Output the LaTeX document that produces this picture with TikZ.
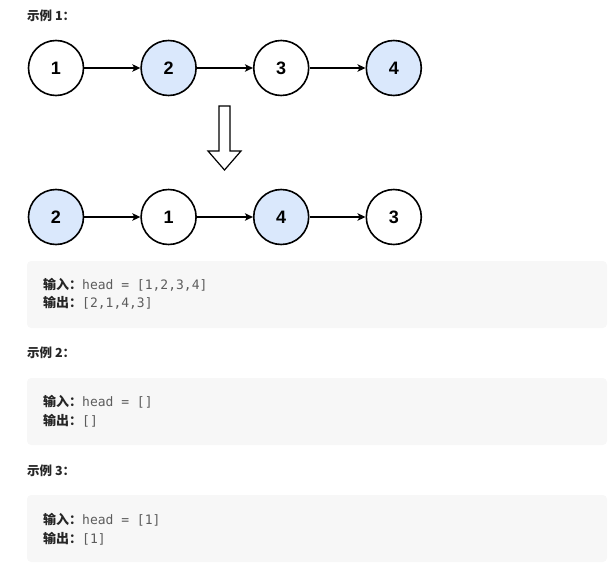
\documentclass[tikz,border=0pt]{standalone}
\usepackage{fontspec}
\setmainfont{Liberation Sans}
\setmonofont{DejaVu Sans Mono}
\newfontfamily\cjk{Noto Sans CJK SC}
\usetikzlibrary{arrows.meta, positioning}
\definecolor{nodeblue}{HTML}{DAE8FC}
\definecolor{codebg}{HTML}{F7F7F7}
\definecolor{codegray}{HTML}{5C5C5C}
\definecolor{labeldark}{HTML}{262626}
\tikzset{
  listnode/.style = {circle, draw=black, line width=1.6pt, minimum size=55pt, inner sep=0pt, fill=white, font=\bfseries\fontsize{18}{18}\selectfont},
  swapped/.style = {listnode, fill=nodeblue},
  link/.style = {-{Stealth[length=8pt, width=7.5pt, inset=2pt]}, line width=1.2pt},
  turnarrow/.style = {draw=black, line width=1.2pt, fill=white, line join=miter},
  codebox/.style = {fill=codebg, rounded corners=4pt},
  title/.style = {anchor=west, inner sep=0pt, text=labeldark, font=\cjk\bfseries\fontsize{12.5}{13}\selectfont},
  codeline/.style = {anchor=west, inner sep=0pt, text=codegray, font=\ttfamily\fontsize{13}{14}\selectfont}
}
\newcommand{\lbl}[1]{{\cjk\bfseries\color{labeldark}#1}}

\begin{document}
\begin{tikzpicture}[x=1pt, y=-1pt, node distance=56pt]
\useasboundingbox (0,0) rectangle (616,567);

% Example 1
\node[title] (ex1) at (27,16) {示例 1：};

% Before
\node[listnode] (a1) at (56,68) {1};
\node[swapped, right=of a1] (a2) {2};
\node[listnode, right=of a2] (a3) {3};
\node[swapped, right=of a3] (a4) {4};

\draw[link] (a1) -- (a2);
\draw[link] (a2) -- (a3);
\draw[link] (a3) -- (a4);

% Down arrow
\draw[turnarrow] (219,106) -- (230,106) -- (230,151) -- (241,151) -- (224.5,170) -- (208,151) -- (219,151) -- cycle;

% After
\node[swapped] (b1) at (56,217) {2};
\node[listnode, right=of b1] (b2) {1};
\node[swapped, right=of b2] (b3) {4};
\node[listnode, right=of b3] (b4) {3};

\draw[link] (b1) -- (b2);
\draw[link] (b2) -- (b3);
\draw[link] (b3) -- (b4);

% Code boxes
\fill[codebox] (27,261) rectangle (607,328);
\node[codeline] (in1) at (43,285) {\lbl{输入：}head = [1,2,3,4]};
\node[codeline] (out1) at (43,303) {\lbl{输出：}[2,1,4,3]};

% Example 2
\node[title] (ex2) at (27,353) {示例 2：};
\fill[codebox] (27,378) rectangle (607,445);
\node[codeline] (in2) at (43,402) {\lbl{输入：}head = []};
\node[codeline] (out2) at (43,421) {\lbl{输出：}[]};

% Example 3
\node[title] (ex3) at (27,471) {示例 3：};
\fill[codebox] (27,495) rectangle (607,562);
\node[codeline] (in3) at (43,520) {\lbl{输入：}head = [1]};
\node[codeline] (out3) at (43,539) {\lbl{输出：}[1]};

\end{tikzpicture}
\end{document}
